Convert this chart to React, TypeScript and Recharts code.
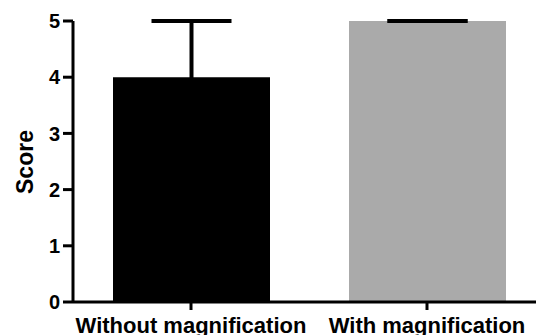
import React from 'react';
import { BarChart, Bar, XAxis, YAxis, ErrorBar, Cell, Label } from 'recharts';

const categories = ['Without magnification', 'With magnification'];
const scores = [4, 5];
// SD, shown above the bar only (the lower half is hidden inside the bar)
const sd = [1, 0];
const yTicks = [0, 1, 2, 3, 4, 5];

const barFills = ['#000000', '#aaaaaa'];
const font = '"Liberation Sans", Arial, sans-serif';

const data = categories.map((name, i) => ({
  name,
  score: scores[i],
  err: [sd[i], sd[i]],
}));

export default function App() {
  return (
    <div style={{ position: 'absolute', left: 0, top: 0, width: 536, height: 335, overflow: 'hidden', background: '#fff' }}>
      <BarChart
        width={545}
        height={335}
        data={data}
        margin={{ top: 21, right: 0, left: 0, bottom: 0 }}
      >
        <XAxis
          dataKey="name"
          height={33}
          stroke="#000"
          strokeWidth={3}
          tickSize={8}
          tickMargin={7}
          tick={{ fill: '#000', fontSize: 22, fontWeight: 'bold', fontFamily: font }}
          interval={0}
        />
        <YAxis
          width={73}
          domain={[0, 5]}
          ticks={yTicks}
          stroke="#000"
          strokeWidth={3}
          tickSize={10}
          tickMargin={3}
          tick={{ fill: '#000', fontSize: 20, fontWeight: 'bold', fontFamily: font }}
        >
          <Label
            content={() => (
              <text
                x={0}
                y={0}
                transform="translate(25,162) rotate(-90)"
                textAnchor="middle"
                dominantBaseline="central"
                fill="#000"
                fontSize="23px"
                fontWeight="bold"
                fontFamily={font}
              >
                Score
              </text>
            )}
          />
        </YAxis>
        <Bar dataKey="score" barSize={157} isAnimationActive={false}>
          {data.map((d, i) => (
            <Cell key={d.name} fill={barFills[i]} />
          ))}
          <ErrorBar dataKey="err" width={40} stroke="#000" strokeWidth={4} direction="y" isAnimationActive={false} />
        </Bar>
      </BarChart>
    </div>
  );
}
